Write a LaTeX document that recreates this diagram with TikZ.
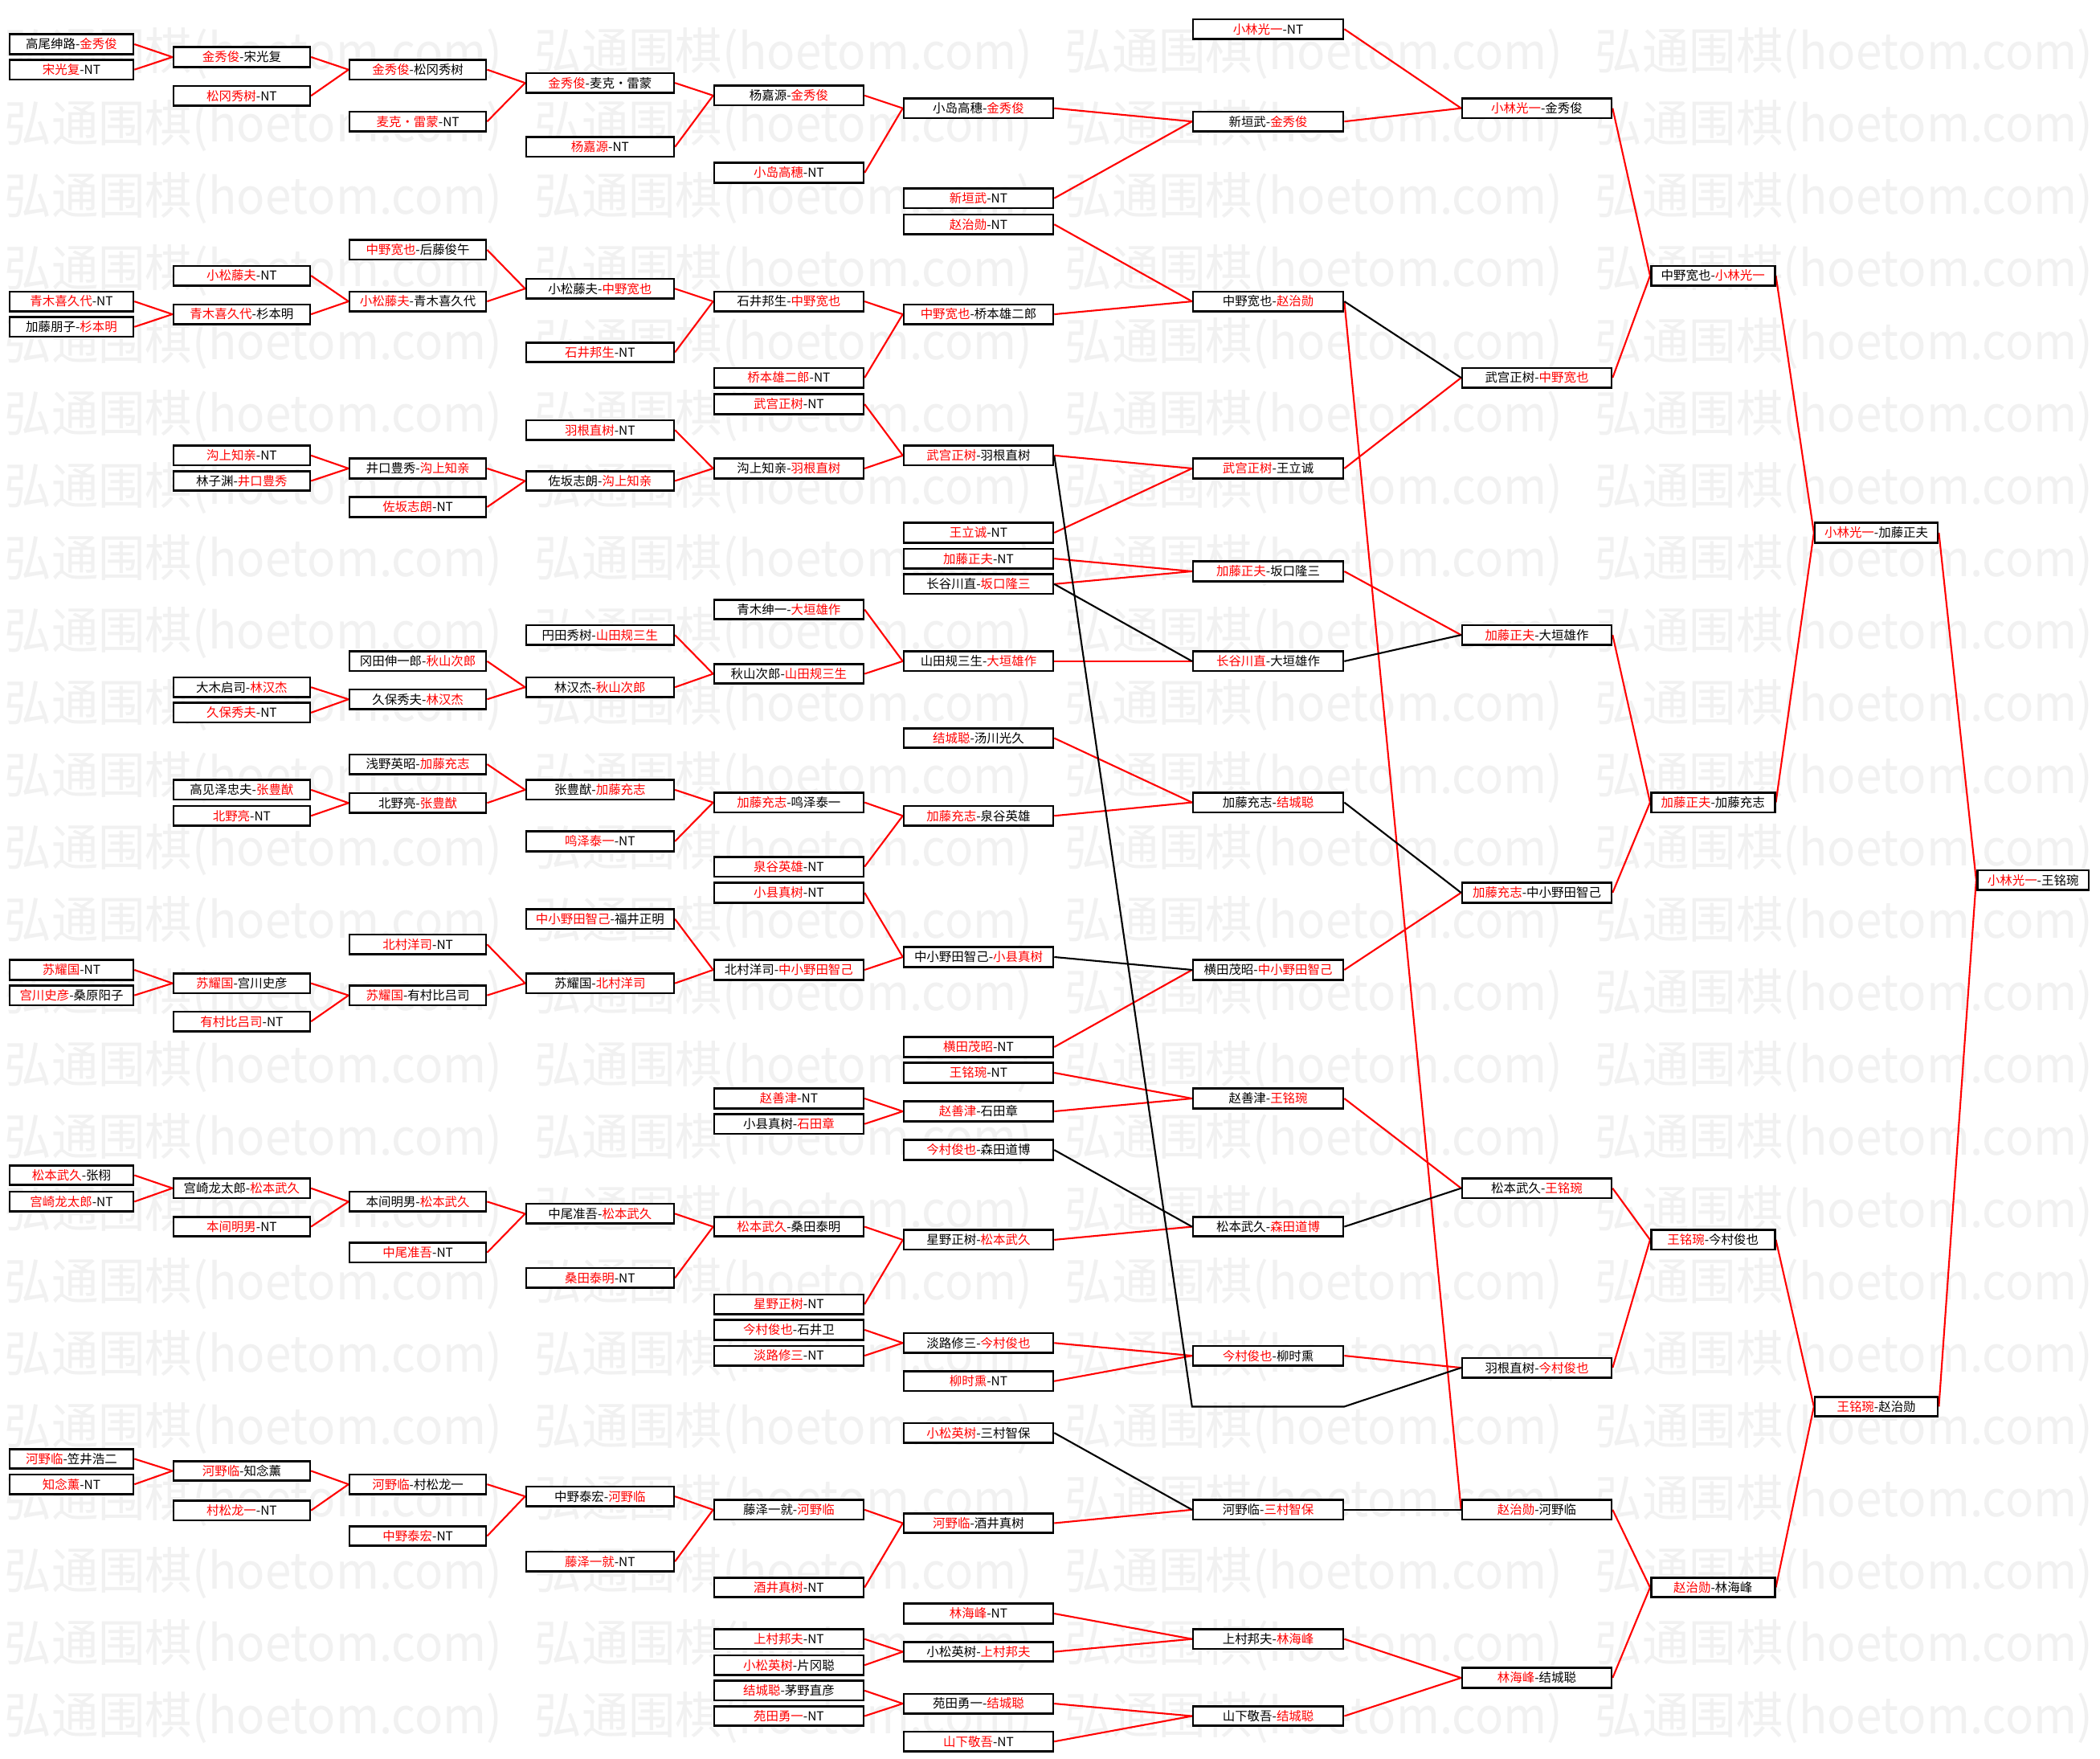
\documentclass[tikz,border=0pt]{standalone}
\usepackage{fontspec}
\setmainfont{Noto Sans CJK SC}
\usepackage{xcolor}
\usepackage{graphicx}
\usepackage{tikz}
\usetikzlibrary{backgrounds}
\definecolor{win}{HTML}{FF0000}
\definecolor{wmgray}{HTML}{F1F1F1}
\tikzset{
  mbox/.style={draw, rectangle, line width=0.75pt, fill=white, minimum height=0.245cm, inner sep=0pt, font=\fontsize{4.4pt}{5pt}\selectfont},
  wline/.style={draw=win, line width=0.6pt},
  lline/.style={draw=black, line width=0.6pt},
  wmark/.style={text=wmgray, anchor=west, inner sep=0pt, font=\fontsize{17.6pt}{18pt}\selectfont}
}
\newcommand{\wn}[1]{\textcolor{win}{#1}}

\begin{document}
\begin{tikzpicture}[x=0.016671cm, y=-0.016671cm]
\useasboundingbox (0,0) rectangle (1568,1313);
\foreach \n/\y/\t in {1/33/高尾绅路-\wn{金秀俊}, 2/52/\wn{宋光复}-NT, 3/225/\wn{青木喜久代}-NT, 4/244/加藤朋子-\wn{杉本明},
  5/724/\wn{苏耀国}-NT, 6/743/\wn{宫川史彦}-桑原阳子, 7/877.3/\wn{松本武久}-张栩, 8/897/\wn{宫崎龙太郎}-NT,
  9/1089/\wn{河野临}-笠井浩二, 10/1108/\wn{知念薰}-NT}
  \node[mbox, minimum width=1.54cm] (m0-\n) at (53.4,\y) {\t};
\foreach \n/\y/\t in {1/42.6/\wn{金秀俊}-宋光复, 2/71.5/\wn{松冈秀树}-NT, 3/205.8/\wn{小松藤夫}-NT, 4/234.6/\wn{青木喜久代}-杉本明,
  5/340/\wn{沟上知亲}-NT, 6/359/林子渊-\wn{井口豊秀}, 7/513/大木启司-\wn{林汉杰}, 8/532/\wn{久保秀夫}-NT,
  9/589.6/高见泽忠夫-\wn{张豊猷}, 10/609/\wn{北野亮}-NT, 11/734/\wn{苏耀国}-宫川史彦, 12/762.5/\wn{有村比吕司}-NT,
  13/887/宫崎龙太郎-\wn{松本武久}, 14/915.7/\wn{本间明男}-NT, 15/1098/\wn{河野临}-知念薰, 16/1127.5/\wn{村松龙一}-NT}
  \node[mbox, minimum width=1.70cm] (m1-\n) at (180.5,\y) {\t};
\foreach \n/\y/\t in {1/52/\wn{金秀俊}-松冈秀树, 2/90.7/\wn{麦克·雷蒙}-NT, 3/186.5/\wn{中野宽也}-后藤俊午, 4/225/\wn{小松藤夫}-青木喜久代,
  5/349.7/井口豊秀-\wn{沟上知亲}, 6/378.5/\wn{佐坂志朗}-NT, 7/493.6/冈田伸一郎-\wn{秋山次郎}, 8/522/久保秀夫-\wn{林汉杰},
  9/570.5/浅野英昭-\wn{加藤充志}, 10/599.4/北野亮-\wn{张豊猷}, 11/705/\wn{北村洋司}-NT, 12/743/\wn{苏耀国}-有村比吕司,
  13/897/本间明男-\wn{松本武久}, 14/935/\wn{中尾准吾}-NT, 15/1108/\wn{河野临}-村松龙一, 16/1146.6/\wn{中野泰宏}-NT}
  \node[mbox, minimum width=1.70cm] (m2-\n) at (312,\y) {\t};
\foreach \n/\y/\t in {1/61.9/\wn{金秀俊}-麦克·雷蒙, 2/109.7/\wn{杨嘉源}-NT, 3/215.5/小松藤夫-\wn{中野宽也}, 4/263/\wn{石井邦生}-NT,
  5/321/\wn{羽根直树}-NT, 6/359/佐坂志朗-\wn{沟上知亲}, 7/474/円田秀树-\wn{山田规三生}, 8/513/林汉杰-\wn{秋山次郎},
  9/589.6/张豊猷-\wn{加藤充志}, 10/628/\wn{鸣泽泰一}-NT, 11/686/\wn{中小野田智己}-福井正明, 12/734/苏耀国-\wn{北村洋司},
  13/906/中尾准吾-\wn{松本武久}, 14/954/\wn{桑田泰明}-NT, 15/1117/中野泰宏-\wn{河野临}, 16/1165.6/\wn{藤泽一就}-NT}
  \node[mbox, minimum width=1.84cm] (m3-\n) at (448,\y) {\t};
\foreach \n/\y/\t in {1/71.3/杨嘉源-\wn{金秀俊}, 2/129/\wn{小岛高穗}-NT, 3/225/石井邦生-\wn{中野宽也}, 4/282/\wn{桥本雄二郎}-NT,
  5/301.7/\wn{武宫正树}-NT, 6/349.7/沟上知亲-\wn{羽根直树}, 7/455/青木绅一-\wn{大垣雄作}, 8/503/秋山次郎-\wn{山田规三生},
  9/599/\wn{加藤充志}-鸣泽泰一, 10/647/\wn{泉谷英雄}-NT, 11/666.4/\wn{小县真树}-NT, 12/724/北村洋司-\wn{中小野田智己},
  13/820/\wn{赵善津}-NT, 14/839/小县真树-\wn{石田章}, 15/915.7/\wn{松本武久}-桑田泰明, 16/973.6/\wn{星野正树}-NT,
  17/992.7/\wn{今村俊也}-石井卫, 18/1012/\wn{淡路修三}-NT, 19/1127/藤泽一就-\wn{河野临}, 20/1185/\wn{酒井真树}-NT,
  21/1223.5/\wn{上村邦夫}-NT, 22/1243/\wn{小松英树}-片冈聪, 23/1262/\wn{结城聪}-茅野直彦, 24/1281/\wn{苑田勇一}-NT}
  \node[mbox, minimum width=1.86cm] (m4-\n) at (589,\y) {\t};
\foreach \n/\y/\t in {1/80.8/小岛高穗-\wn{金秀俊}, 2/148/\wn{新垣武}-NT, 3/167.5/\wn{赵治勋}-NT, 4/234.6/\wn{中野宽也}-桥本雄二郎,
  5/340/\wn{武宫正树}-羽根直树, 6/397.7/\wn{王立诚}-NT, 7/417/\wn{加藤正夫}-NT, 8/436/长谷川直-\wn{坂口隆三},
  9/493.6/山田规三生-\wn{大垣雄作}, 10/551/\wn{结城聪}-汤川光久, 11/609/\wn{加藤充志}-泉谷英雄, 12/714.4/中小野田智己-\wn{小县真树},
  13/781.6/\wn{横田茂昭}-NT, 14/800.8/\wn{王铭琬}-NT, 15/829.6/\wn{赵善津}-石田章, 16/858.4/\wn{今村俊也}-森田道博,
  17/925.5/星野正树-\wn{松本武久}, 18/1002.5/淡路修三-\wn{今村俊也}, 19/1031/\wn{柳时熏}-NT, 20/1069.6/\wn{小松英树}-三村智保,
  21/1137/\wn{河野临}-酒井真树, 22/1204.5/\wn{林海峰}-NT, 23/1233/小松英树-\wn{上村邦夫}, 24/1271.7/苑田勇一-\wn{结城聪},
  25/1300/\wn{山下敬吾}-NT}
  \node[mbox, minimum width=1.86cm] (m5-\n) at (730.6,\y) {\t};
\foreach \n/\y/\t in {1/21.7/\wn{小林光一}-NT, 2/90.7/新垣武-\wn{金秀俊}, 3/225/中野宽也-\wn{赵治勋}, 4/349.7/\wn{武宫正树}-王立诚,
  5/426.5/\wn{加藤正夫}-坂口隆三, 6/493.6/\wn{长谷川直}-大垣雄作, 7/599/加藤充志-\wn{结城聪}, 8/724/横田茂昭-\wn{中小野田智己},
  9/820/赵善津-\wn{王铭琬}, 10/915.7/松本武久-\wn{森田道博}, 11/1012/\wn{今村俊也}-柳时熏, 12/1127/河野临-\wn{三村智保},
  13/1223.5/上村邦夫-\wn{林海峰}, 14/1281/山下敬吾-\wn{结城聪}}
  \node[mbox, minimum width=1.87cm] (m6-\n) at (946.9,\y) {\t};
\foreach \n/\y/\t in {1/80.8/\wn{小林光一}-金秀俊, 2/282/武宫正树-\wn{中野宽也}, 3/474/\wn{加藤正夫}-大垣雄作, 4/666.4/\wn{加藤充志}-中小野田智己,
  5/887/松本武久-\wn{王铭琬}, 6/1021/羽根直树-\wn{今村俊也}, 7/1127/\wn{赵治勋}-河野临, 8/1252.5/\wn{林海峰}-结城聪}
  \node[mbox, minimum width=1.86cm] (m7-\n) at (1147.5,\y) {\t};
\foreach \n/\y/\t in {1/205.8/中野宽也-\wn{小林光一}, 2/599/\wn{加藤正夫}-加藤充志, 3/925.5/\wn{王铭琬}-今村俊也, 4/1185/\wn{赵治勋}-林海峰}
  \node[mbox, minimum width=1.54cm] (m8-\n) at (1279,\y) {\t};
\foreach \n/\y/\t in {1/397.7/\wn{小林光一}-加藤正夫, 2/1050/\wn{王铭琬}-赵治勋}
  \node[mbox, minimum width=1.53cm] (m9-\n) at (1401,\y) {\t};
\node[mbox, minimum width=1.39cm] (m10-1) at (1518,657) {\wn{小林光一}-王铭琬};

\coordinate (hb1) at (m6-11.west |- 0,1050);
\coordinate (hb2) at (m6-11.east |- 0,1050);

\begin{scope}[on background layer]
\fill[white] (0,0) rectangle (1568,1313);
\foreach \i/\x in {0/3.0, 1/398.9, 2/794.8, 3/1190.7}
  \foreach \k in {0,...,23}
    \node[wmark] (wm\i-\k) at (\x,40.2+54*\k) {\resizebox{6.2cm}{\height}{弘通围棋(hoetom.com)}};
\foreach \a/\b in {m0-1/m1-1, m0-2/m1-1, m1-1/m2-1, m1-2/m2-1, m2-1/m3-1, m2-2/m3-1, m3-1/m4-1, m3-2/m4-1,
  m4-1/m5-1, m4-2/m5-1, m5-1/m6-2, m5-2/m6-2, m6-1/m7-1, m6-2/m7-1, m7-1/m8-1, m7-2/m8-1,
  m0-3/m1-4, m0-4/m1-4, m1-3/m2-4, m1-4/m2-4, m2-3/m3-3, m2-4/m3-3, m3-3/m4-3, m3-4/m4-3,
  m4-3/m5-4, m4-4/m5-4, m5-4/m6-3, m5-3/m6-3, m6-3/m7-7, m6-4/m7-2,
  m1-5/m2-5, m1-6/m2-5, m2-5/m3-6, m2-6/m3-6, m3-5/m4-6, m3-6/m4-6, m4-5/m5-5, m4-6/m5-5,
  m5-5/m6-4, m5-6/m6-4, m5-7/m6-5, m5-8/m6-5, m5-9/m6-6, m6-5/m7-3,
  m7-3/m8-2, m7-4/m8-2, m8-1/m9-1, m8-2/m9-1, m9-1/m10-1, m9-2/m10-1,
  m1-7/m2-8, m1-8/m2-8, m2-7/m3-8, m2-8/m3-8, m3-7/m4-8, m3-8/m4-8, m4-7/m5-9, m4-8/m5-9,
  m1-9/m2-10, m1-10/m2-10, m2-9/m3-9, m2-10/m3-9, m3-9/m4-9, m3-10/m4-9, m4-9/m5-11, m4-10/m5-11,
  m5-10/m6-7, m5-11/m6-7, m6-8/m7-4,
  m0-5/m1-11, m0-6/m1-11, m1-11/m2-12, m1-12/m2-12, m2-11/m3-12, m2-12/m3-12, m3-11/m4-12, m3-12/m4-12,
  m4-11/m5-12, m4-12/m5-12, m5-13/m6-8,
  m4-13/m5-15, m4-14/m5-15, m5-14/m6-9, m5-15/m6-9, m6-9/m7-5, m7-5/m8-3, m7-6/m8-3, m8-3/m9-2, m8-4/m9-2,
  m0-7/m1-13, m0-8/m1-13, m1-13/m2-13, m1-14/m2-13, m2-13/m3-13, m2-14/m3-13, m3-13/m4-15, m3-14/m4-15,
  m4-15/m5-17, m4-16/m5-17, m5-17/m6-10,
  m4-17/m5-18, m4-18/m5-18, m5-18/m6-11, m5-19/m6-11, m6-11/m7-6,
  m0-9/m1-15, m0-10/m1-15, m1-15/m2-15, m1-16/m2-15, m2-15/m3-15, m2-16/m3-15, m3-15/m4-19, m3-16/m4-19,
  m4-19/m5-21, m4-20/m5-21, m5-21/m6-12, m7-7/m8-4, m7-8/m8-4,
  m4-21/m5-23, m4-22/m5-23, m5-22/m6-13, m5-23/m6-13, m4-23/m5-24, m4-24/m5-24, m5-24/m6-14, m5-25/m6-14,
  m6-13/m7-8, m6-14/m7-8}
  \draw[wline] (\a.east) -- (\b.west);
\foreach \a/\b in {m6-3/m7-2, m5-8/m6-6, m6-6/m7-3, m6-7/m7-4, m5-12/m6-8, m6-10/m7-5,
  m5-16/m6-10, m5-20/m6-12, m6-12/m7-7}
  \draw[lline] (\a.east) -- (\b.west);
\draw[lline] (m5-5.east) -- (hb1) -- (hb2) -- (m7-6.west);
\end{scope}
\end{tikzpicture}
\end{document}
